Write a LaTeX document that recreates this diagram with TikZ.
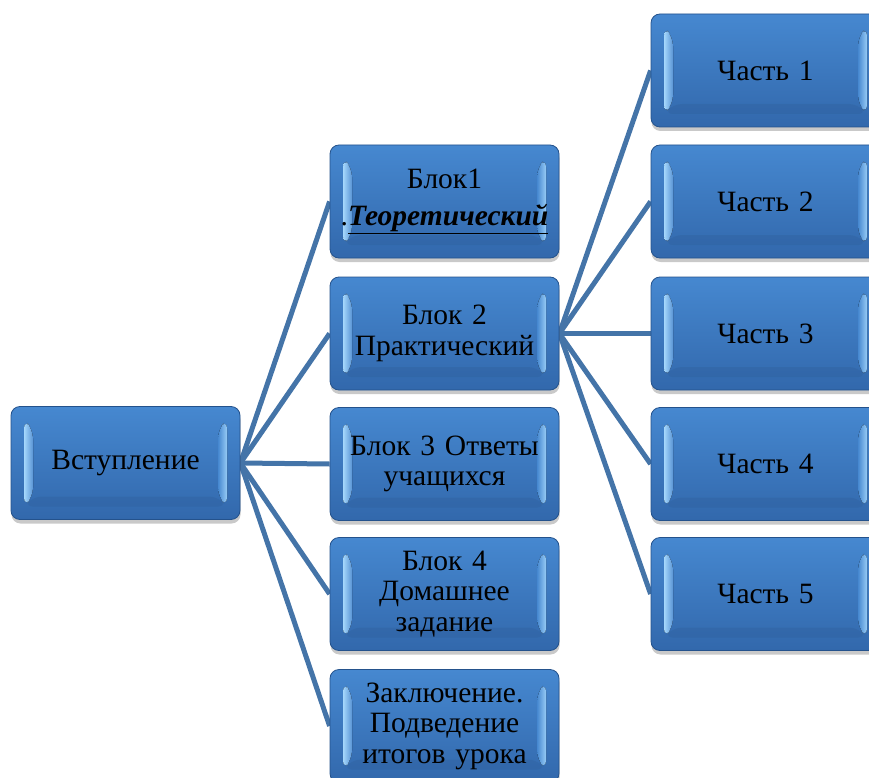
\documentclass[tikz,border=0pt]{standalone}
\usepackage{fontspec}
\setmainfont{Liberation Serif}
\usetikzlibrary{shadows,backgrounds,calc}
\definecolor{boxtop}{RGB}{70,136,208}
\definecolor{boxbot}{RGB}{50,104,172}
\definecolor{boxrim}{RGB}{36,82,140}
\definecolor{bevlight}{RGB}{165,215,252}
\definecolor{linkblue}{RGB}{68,116,168}
\tikzset{
  blockbox/.style={rectangle, rounded corners=9pt, minimum width=229pt, minimum height=113pt,
    inner sep=2pt, text width=224pt, align=center, draw=boxrim, line width=0.8pt,
    top color=boxtop, bottom color=boxbot,
    drop shadow={shadow xshift=0.5pt, shadow yshift=-4pt, opacity=0.3, fill=black!70},
    font=\fontsize{29.5}{30.5}\selectfont,
    path picture={
      \path (path picture bounding box.north west) coordinate (pa)
            (path picture bounding box.south east) coordinate (pb);
      \fill[left color=bevlight, right color=boxtop!90!white]
        ($(pa)+(13,13)$) -- ($(pa)+(22,23)$) -- ($(pa|-pb)+(22,-23)$) -- ($(pa|-pb)+(13,-13)$) -- cycle;
      \fill[left color=boxtop, right color=bevlight!85!boxtop]
        ($(pb|-pa)+(-13,13)$) -- ($(pb|-pa)+(-22,23)$) -- ($(pb)+(-22,-23)$) -- ($(pb)+(-13,-13)$) -- cycle;
      \fill[boxbot!80!black, opacity=0.2]
        ($(pa|-pb)+(13,-13)$) -- ($(pa|-pb)+(22,-23)$) -- ($(pb)+(-22,-23)$) -- ($(pb)+(-13,-13)$) -- cycle;
    }},
  link/.style={draw=linkblue, line width=5pt}
}
\begin{document}
\begin{tikzpicture}[x=1pt,y=-1pt]
\useasboundingbox (0,0) rectangle (869,778);
\clip (0,0) rectangle (869,778);
\node[blockbox] (v) at (125.5,463) {Вступление};
\node[blockbox] (b1) at (444.5,201.5) {Блок1\\[7pt].\textbf{\textit{\underline{Теоретический}}}};
\node[blockbox] (b2) at (444.5,333.5) {Блок 2\\Практический};
\node[blockbox] (b3) at (444.5,464) {Блок 3 Ответы\\учащихся};
\node[blockbox] (b4) at (444.5,594) {Блок 4\\Домашнее\\задание};
\node[blockbox] (b5) at (444.5,726) {Заключение.\\Подведение\\итогов урока};
\node[blockbox] (c1) at (765.5,70.5) {Часть 1};
\node[blockbox] (c2) at (765.5,201.5) {Часть 2};
\node[blockbox] (c3) at (765.5,333.5) {Часть 3};
\node[blockbox] (c4) at (765.5,464) {Часть 4};
\node[blockbox] (c5) at (765.5,594) {Часть 5};
\begin{scope}[on background layer]
  \foreach \t in {b1,b2,b3,b4,b5} \draw[link] (v.east) -- (\t.west);
  \foreach \t in {c1,c2,c3,c4,c5} \draw[link] (b2.east) -- (\t.west);
\end{scope}
\end{tikzpicture}
\end{document}
